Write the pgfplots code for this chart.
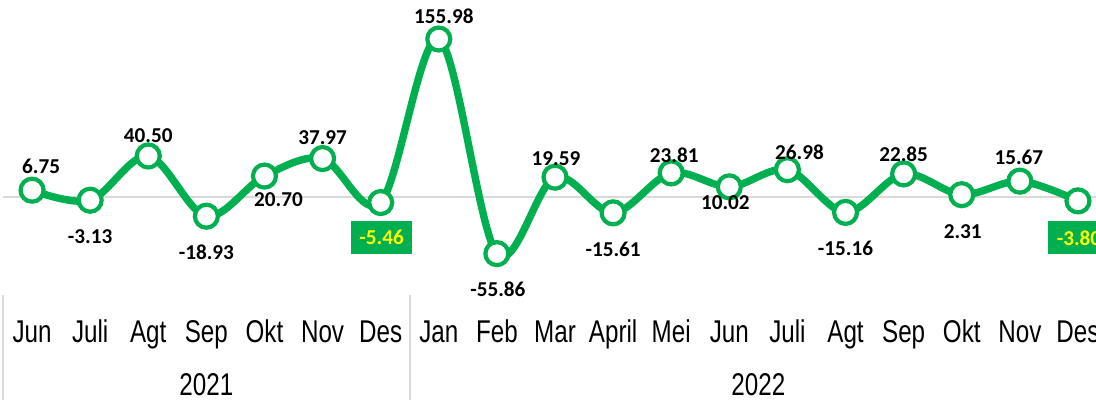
\documentclass[border=0pt]{standalone}
\usepackage{pgfplots}
\pgfplotsset{compat=1.18}
\usepackage{pgfplotstable}
\usepackage{fontspec}
\setmainfont{Liberation Sans}
\newfontfamily\labfont{Carlito}
\definecolor{xlgreen}{HTML}{00B050}
\definecolor{zgray}{HTML}{D9D9D9}
\definecolor{xlyellow}{HTML}{FFFF00}
\newcommand\vs[1]{\scalebox{1}[1.3]{#1}}

\pgfplotstableread{
x y
0 6.75
1 -3.13
2 40.50
3 -18.93
4 20.70
5 37.97
6 -5.46
7 155.98
8 -55.86
9 19.59
10 -15.61
11 23.81
12 10.02
13 26.98
14 -15.16
15 22.85
16 2.31
17 15.67
18 -3.80
}\datatable

\pgfplotstableread{
x y lab dx dy
0 6.75 6.75 9 24
1 -3.13 -3.13 0 -36.5
2 40.50 40.50 0 20
3 -18.93 -18.93 0 -36
4 20.70 20.70 14 -24
5 37.97 37.97 0 21
7 155.98 155.98 5 23
8 -55.86 -55.86 1 -36
9 19.59 19.59 1 19
10 -15.61 -15.61 0 -36
11 23.81 23.81 3 18
12 10.02 10.02 -4 -16
13 26.98 26.98 12 17
14 -15.16 -15.16 0 -36
15 22.85 22.85 0 20
16 2.31 2.31 1 -37
17 15.67 15.67 -1 24
}\labtable

\pgfplotstableread{
x y lab dx dy
6 -5.46 -5.46 1 -35
18 -3.80 -3.80 1 -37
}\boxtable

\begin{document}
\begin{tikzpicture}
\path[use as bounding box, clip] (-1.5pt,-52.5pt) rectangle (546.5pt,147.5pt);
\begin{axis}[
  scale only axis,
  width=552pt, height=147.5pt,
  xmin=-0.5, xmax=18.5,
  ymin=-96.7, ymax=194.5,
  clip=false,
  axis line style={draw=none},
  ytick=\empty,
  xtick={0,...,18},
  major tick length=0pt,
  xticklabels={\vs{Jun},\vs{Juli},\vs{Agt},\vs{Sep},\vs{Okt},\vs{Nov},\vs{Des},\vs{Jan},\vs{Feb},\vs{Mar},\vs{April},\vs{Mei},\vs{Jun},\vs{Juli},\vs{Agt},\vs{Sep},\vs{Okt},\vs{Nov},\vs{Des}},
  xticklabel style={font=\fontsize{12.1}{14}\selectfont, anchor=base, yshift=-23.5pt, inner sep=0pt},
]
% zero line
\draw[zgray, line width=1pt] (axis cs:-0.5,0) -- (axis cs:18.5,0);
% separators
\draw[zgray, line width=1pt] (axis cs:-0.5,-96.7) -- ([yshift=-60pt]axis cs:-0.5,-96.7);
\draw[zgray, line width=1pt] (axis cs:6.5,-96.7) -- ([yshift=-60pt]axis cs:6.5,-96.7);
% year labels
\node[anchor=base, font=\fontsize{12.1}{14}\selectfont, inner sep=0pt] at ([yshift=-50pt]axis cs:3,-96.7) {\vs{2021}};
\node[anchor=base, font=\fontsize{12.1}{14}\selectfont, inner sep=0pt] at ([yshift=-50pt]axis cs:12.5,-96.7) {\vs{2022}};

\addplot[xlgreen, line width=3.7pt, smooth, tension=0.55,
  mark=*, mark size=5.75pt,
  mark options={fill=white, draw=xlgreen, line width=2.1pt}]
  table[x=x, y=y] {\datatable};

\addplot[draw=none, mark=none,
  nodes near coords, point meta=explicit symbolic,
  visualization depends on={\thisrow{dx} \as \dx},
  visualization depends on={\thisrow{dy} \as \dy},
  every node near coord/.style={anchor=center, xshift=\dx*0.5pt, yshift=\dy*0.5pt,
    font=\labfont\bfseries\fontsize{10.6}{12}\selectfont, text=black, inner sep=0pt}]
  table[x=x, y=y, meta=lab] {\labtable};

\addplot[draw=none, mark=none,
  nodes near coords, point meta=explicit symbolic,
  visualization depends on={\thisrow{dx} \as \dx},
  visualization depends on={\thisrow{dy} \as \dy},
  every node near coord/.style={anchor=center, xshift=\dx*0.5pt, yshift=\dy*0.5pt,
    font=\labfont\bfseries\fontsize{10.6}{12}\selectfont, text=xlyellow, fill=xlgreen,
    inner xsep=4.2pt, inner ysep=0pt, minimum height=16.5pt}]
  table[x=x, y=y, meta=lab] {\boxtable};
\end{axis}
\end{tikzpicture}
\end{document}
